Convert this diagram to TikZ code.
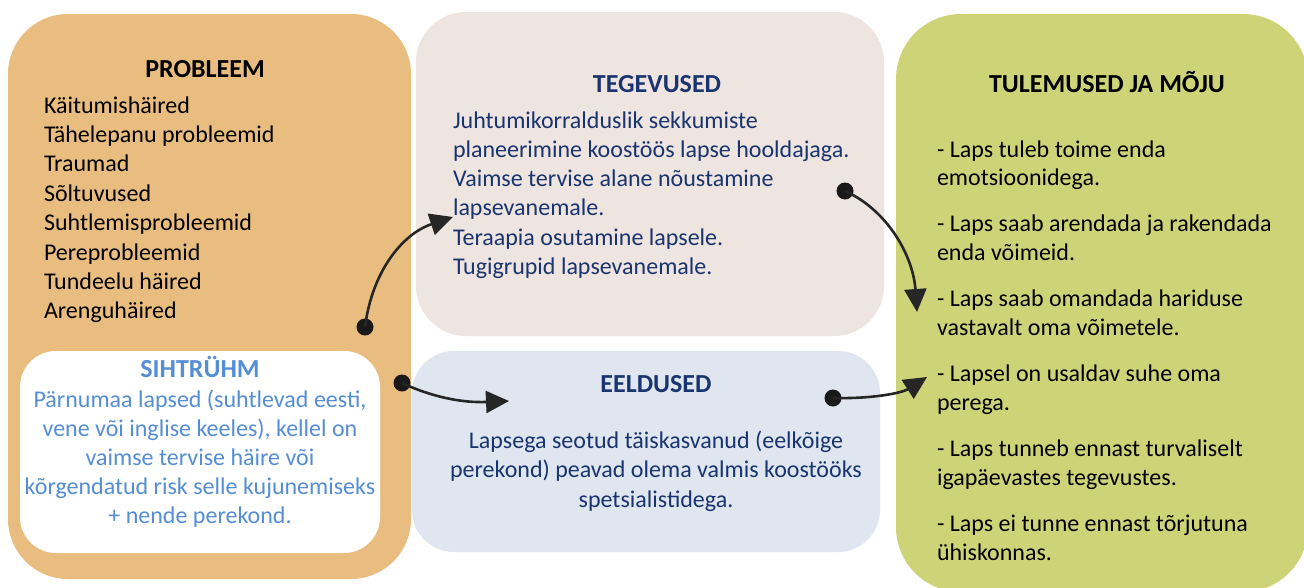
\documentclass[tikz,border=0pt]{standalone}
\usepackage{fontspec}
\setmainfont{Carlito}
\usetikzlibrary{arrows.meta}
\definecolor{probbg}{RGB}{233,189,128}
\definecolor{tegbg}{RGB}{238,228,224}
\definecolor{eelbg}{RGB}{223,230,239}
\definecolor{tulbg}{RGB}{207,211,120}
\definecolor{navy}{RGB}{25,52,110}
\definecolor{sblue}{RGB}{85,142,213}
\begin{document}
\begin{tikzpicture}[x=1pt,y=-1pt,
  box/.style={inner sep=0pt, outer sep=0pt, draw=none},
  body/.style={font=\fontsize{24}{29}\selectfont, inner sep=0pt, outer sep=0pt},
  head/.style={font=\fontsize{26}{31}\selectfont\bfseries, inner sep=0pt, outer sep=0pt, anchor=base},
  dotnode/.style={circle, fill=black!90, inner sep=0pt, minimum size=17pt},
  conn/.style={line width=2.6pt, black!85, -{Triangle[length=23pt,width=22pt]}}
]
\useasboundingbox (0,0) rectangle (1304,587);
\clip (0,0) rectangle (1304,587);
\fill[white] (0,0) rectangle (1304,587);

% boxes
\node[box, fill=probbg, rounded corners=60pt, minimum width=403pt, minimum height=565pt] (probbox) at (209.5,296.5) {};
\node[box, fill=white, rounded corners=36pt, minimum width=360pt, minimum height=202pt] (sihtbox) at (200,452) {};
\node[box, fill=tegbg, rounded corners=50pt, minimum width=468pt, minimum height=324pt] (tegbox) at (650,174) {};
\node[box, fill=eelbg, rounded corners=42pt, minimum width=468pt, minimum height=201pt] (eelbox) at (646,451.5) {};
\node[box, fill=tulbg, rounded corners=65pt, minimum width=412pt, minimum height=578pt] (tulbox) at (1102,303) {};

% PROBLEEM
\node[head] (hprob) at (205,77) {PROBLEEM};
\foreach \t [count=\i] in {Käitumishäired, Tähelepanu probleemid, Traumad, Sõltuvused, Suhtlemisprobleemid, Pereprobleemid, Tundeelu häired, Arenguhäired}
  \node[body, anchor=base west] (pl\i) at (44,{113+29.4*(\i-1)}) {\t};

% SIHTRÜHM
\node[head, text=sblue] (hsiht) at (200,377) {SIHTRÜHM};
\foreach \t [count=\i] in {{Pärnumaa lapsed (suhtlevad eesti,}, {vene või inglise keeles), kellel on}, {vaimse tervise häire või}, {kõrgendatud risk selle kujunemiseks}, {+ nende perekond.}}
  \node[body, anchor=base, text=sblue] (sl\i) at (200,{407+29.1*(\i-1)}) {\t};

% TEGEVUSED
\node[head, text=navy] (hteg) at (657,92) {TEGEVUSED};
\foreach \t [count=\i] in {Juhtumikorralduslik sekkumiste, planeerimine koostöös lapse hooldajaga., Vaimse tervise alane nõustamine, lapsevanemale., Teraapia osutamine lapsele., Tugigrupid lapsevanemale.}
  \node[body, anchor=base west, text=navy] (tl\i) at (453,{128+29.3*(\i-1)}) {\t};

% EELDUSED
\node[head, text=navy] (heel) at (656,392) {EELDUSED};
\foreach \t [count=\i] in {Lapsega seotud täiskasvanud (eelkõige, perekond) peavad olema valmis koostööks, spetsialistidega.}
  \node[body, anchor=base, text=navy] (el\i) at (656,{448+29.7*(\i-1)}) {\t};

% TULEMUSED JA MÕJU
\node[head] (htul) at (1107,92) {TULEMUSED JA MÕJU};
\foreach \a/\b [count=\i] in {{- Laps tuleb toime enda}/{emotsioonidega.}, {- Laps saab arendada ja rakendada}/{enda võimeid.}, {- Laps saab omandada hariduse}/{vastavalt oma võimetele.}, {- Lapsel on usaldav suhe oma}/{perega.}, {- Laps tunneb ennast turvaliselt}/{igapäevastes tegevustes.}, {- Laps ei tunne ennast tõrjutuna}/{ühiskonnas.}}
{
  \node[body, anchor=base west] (ua\i) at (937,{157+74.9*(\i-1)}) {\a};
  \node[body, anchor=base west] (ub\i) at (937,{185.8+74.9*(\i-1)}) {\b};
}

% connectors
\node[dotnode] (d1) at (365,327) {};
\node[dotnode] (d2) at (402,383) {};
\node[dotnode] (d3) at (845,191) {};
\node[dotnode] (d4) at (833,398) {};
\coordinate (e1) at (453,217);
\coordinate (e2) at (509,401);
\coordinate (e3) at (917,312);
\coordinate (e4) at (927,377);
\draw[conn] (d1.center) .. controls (372,272) and (402,234) .. (e1);
\draw[conn] (d2.center) .. controls (432,397) and (462,403) .. (e2);
\draw[conn] (d3.center) .. controls (887,210) and (913,255) .. (e3);
\draw[conn] (d4.center) .. controls (872,399) and (902,393) .. (e4);
\end{tikzpicture}
\end{document}
